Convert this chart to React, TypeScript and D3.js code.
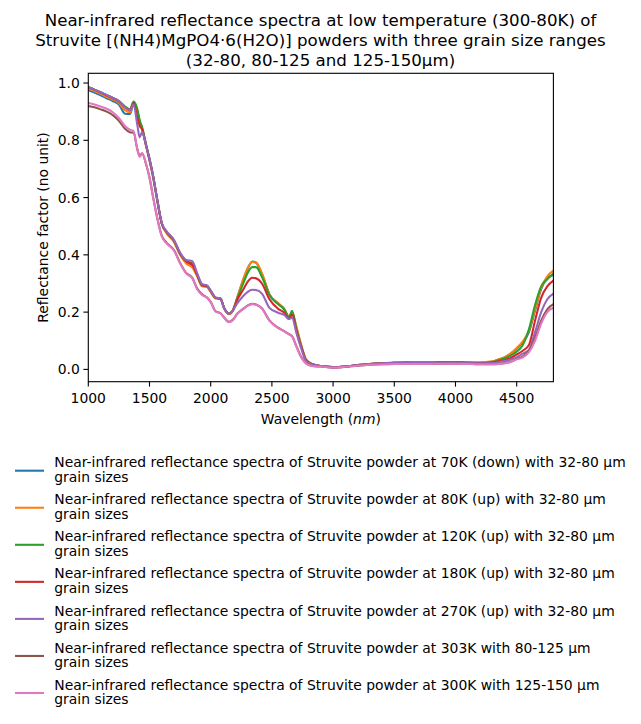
import React from "react";
import * as d3 from "d3";

const wavelengths = [1000,1050,1100,1150,1200,1250,1300,1340,1370,1400,1420,1440,1470,1500,1530,1560,1600,1640,1700,1750,1800,1850,1890,1930,1970,2000,2040,2080,2110,2150,2180,2220,2270,2300,2340,2370,2420,2480,2550,2600,2640,2665,2700,2740,2780,2830,2900,3000,3100,3200,3300,3400,3500,3600,3700,3800,3900,4000,4100,4200,4300,4350,4400,4450,4500,4550,4600,4650,4700,4750,4800];

const blue70K = [0.975,0.967,0.957,0.947,0.937,0.925,0.893,0.892,0.925,0.902,0.865,0.84,0.785,0.73,0.67,0.60,0.51,0.478,0.447,0.402,0.373,0.36,0.327,0.292,0.29,0.272,0.249,0.246,0.213,0.194,0.205,0.255,0.318,0.35,0.377,0.373,0.332,0.262,0.23,0.21,0.183,0.197,0.145,0.082,0.033,0.018,0.012,0.008,0.010,0.015,0.019,0.021,0.023,0.023,0.023,0.023,0.025,0.025,0.023,0.023,0.027,0.034,0.042,0.055,0.072,0.095,0.13,0.205,0.28,0.318,0.33];
const orange80K = [0.980,0.972,0.962,0.952,0.942,0.930,0.905,0.898,0.930,0.905,0.865,0.840,0.785,0.73,0.67,0.60,0.51,0.475,0.445,0.40,0.37,0.355,0.325,0.29,0.288,0.27,0.248,0.246,0.213,0.193,0.205,0.255,0.32,0.352,0.375,0.373,0.334,0.262,0.232,0.212,0.185,0.198,0.15,0.085,0.034,0.018,0.012,0.008,0.010,0.015,0.019,0.021,0.023,0.024,0.024,0.024,0.025,0.026,0.024,0.024,0.028,0.035,0.042,0.055,0.075,0.098,0.135,0.21,0.285,0.325,0.345];
const green120K = [0.985,0.977,0.968,0.958,0.948,0.937,0.918,0.908,0.935,0.91,0.87,0.845,0.79,0.735,0.675,0.60,0.51,0.48,0.45,0.405,0.378,0.37,0.33,0.295,0.292,0.275,0.25,0.248,0.215,0.195,0.205,0.25,0.305,0.335,0.357,0.357,0.322,0.26,0.228,0.21,0.182,0.205,0.14,0.08,0.032,0.018,0.012,0.008,0.010,0.015,0.019,0.021,0.023,0.024,0.024,0.024,0.026,0.026,0.024,0.023,0.026,0.032,0.038,0.048,0.062,0.085,0.14,0.225,0.29,0.315,0.335];
const red180K = [0.985,0.977,0.967,0.957,0.947,0.936,0.915,0.905,0.93,0.88,0.85,0.838,0.785,0.735,0.675,0.60,0.51,0.48,0.45,0.405,0.378,0.365,0.33,0.294,0.29,0.274,0.25,0.247,0.214,0.195,0.205,0.245,0.282,0.305,0.32,0.318,0.299,0.245,0.212,0.198,0.176,0.192,0.135,0.078,0.031,0.018,0.012,0.008,0.010,0.015,0.019,0.021,0.023,0.024,0.023,0.023,0.025,0.025,0.023,0.022,0.024,0.028,0.032,0.040,0.052,0.065,0.085,0.17,0.25,0.29,0.31];
const purple270K = [0.985,0.977,0.968,0.958,0.948,0.937,0.915,0.905,0.925,0.855,0.81,0.83,0.785,0.735,0.675,0.60,0.512,0.482,0.452,0.408,0.382,0.378,0.335,0.298,0.293,0.275,0.251,0.247,0.214,0.195,0.205,0.232,0.258,0.27,0.278,0.277,0.264,0.215,0.198,0.19,0.176,0.18,0.128,0.072,0.029,0.017,0.012,0.008,0.010,0.015,0.019,0.021,0.023,0.023,0.023,0.023,0.024,0.024,0.022,0.021,0.022,0.025,0.029,0.035,0.042,0.055,0.068,0.13,0.2,0.245,0.265];
const brown303K = [0.92,0.915,0.908,0.9,0.888,0.868,0.84,0.828,0.826,0.77,0.745,0.755,0.72,0.67,0.60,0.535,0.467,0.442,0.417,0.372,0.337,0.32,0.282,0.262,0.251,0.236,0.203,0.196,0.181,0.166,0.173,0.196,0.213,0.223,0.229,0.227,0.213,0.171,0.146,0.134,0.123,0.116,0.081,0.043,0.021,0.012,0.01,0.006,0.009,0.013,0.016,0.018,0.019,0.019,0.019,0.019,0.02,0.02,0.019,0.018,0.018,0.019,0.022,0.027,0.036,0.045,0.065,0.11,0.17,0.21,0.228];
const pink300K = [0.93,0.925,0.918,0.91,0.898,0.878,0.85,0.837,0.832,0.77,0.742,0.755,0.72,0.67,0.60,0.535,0.465,0.44,0.415,0.37,0.335,0.318,0.28,0.26,0.25,0.235,0.202,0.195,0.18,0.165,0.172,0.195,0.212,0.222,0.228,0.226,0.212,0.17,0.145,0.133,0.122,0.115,0.08,0.042,0.02,0.012,0.01,0.006,0.009,0.013,0.016,0.018,0.019,0.019,0.019,0.019,0.02,0.02,0.019,0.018,0.018,0.019,0.021,0.026,0.035,0.042,0.06,0.1,0.16,0.2,0.215];

const seriesLabels = [
  "Near-infrared reflectance spectra of Struvite powder at 70K (down) with 32-80 µm grain sizes",
  "Near-infrared reflectance spectra of Struvite powder at 80K (up) with 32-80 µm grain sizes",
  "Near-infrared reflectance spectra of Struvite powder at 120K (up) with 32-80 µm grain sizes",
  "Near-infrared reflectance spectra of Struvite powder at 180K (up) with 32-80 µm grain sizes",
  "Near-infrared reflectance spectra of Struvite powder at 270K (up) with 32-80 µm grain sizes",
  "Near-infrared reflectance spectra of Struvite powder at 303K with 80-125 µm grain sizes",
  "Near-infrared reflectance spectra of Struvite powder at 300K with 125-150 µm grain sizes",
];
const seriesValues = [blue70K, orange80K, green120K, red180K, purple270K, brown303K, pink300K];
const colors = ["#1f77b4", "#ff7f0e", "#2ca02c", "#d62728", "#9467bd", "#8c564b", "#e377c2"];

const titleLines = [
  "Near-infrared reflectance spectra at low temperature (300-80K) of",
  "Struvite [(NH4)MgPO4·6(H2O)] powders with three grain size ranges",
  "(32-80, 80-125 and 125-150µm)",
];
const xTicks = [1000, 1500, 2000, 2500, 3000, 3500, 4000, 4500];
const yTicks = [0, 0.2, 0.4, 0.6, 0.8, 1.0];

const W = 641, H = 724;
const M = { left: 88.3, right: 553.4, top: 73.3, bottom: 381.7 };
const FONT = "DejaVu Sans, sans-serif";

export default function App() {
  const x = d3.scaleLinear().domain([1000, 4800]).range([M.left, M.right]);
  const all = seriesValues.flat();
  const lo = d3.min(all)!, hi = d3.max(all)!;
  const pad = (hi - lo) * 0.05;
  const y = d3.scaleLinear().domain([lo - pad, hi + pad]).range([M.bottom, M.top]);
  const line = d3.line<number>()
    .x((_, i) => x(wavelengths[i]))
    .y((v) => y(v))
    .curve(d3.curveMonotoneX);

  return (
    <svg width={W} height={H} style={{ position: "absolute", left: 0, top: 0, background: "#fff" }} fontFamily={FONT}>
      <rect width={W} height={H} fill="#fff" />
      <text x={320.5} y={26.3} textAnchor="middle" fontSize={16.67} fill="#000">
        {titleLines.map((t, i) => (
          <tspan key={i} x={320.5} dy={i === 0 ? 0 : 19.8}>{t}</tspan>
        ))}
      </text>
      <defs>
        <clipPath id="plotclip">
          <rect x={M.left} y={M.top} width={M.right - M.left} height={M.bottom - M.top} />
        </clipPath>
      </defs>
      <g clipPath="url(#plotclip)">
        {seriesValues.map((vals, i) => (
          <path key={i} d={line(vals) || ""} fill="none" stroke={colors[i]} strokeWidth={2.08} strokeLinejoin="round" strokeLinecap="square" />
        ))}
      </g>
      <rect x={M.left} y={M.top} width={M.right - M.left} height={M.bottom - M.top} fill="none" stroke="#000" strokeWidth={1.1} />
      {xTicks.map((t) => (
        <g key={t}>
          <line x1={x(t)} x2={x(t)} y1={M.bottom} y2={M.bottom + 4.9} stroke="#000" strokeWidth={1.1} />
          <text x={x(t)} y={M.bottom + 21.5} textAnchor="middle" fontSize={13.9} fill="#000">{t}</text>
        </g>
      ))}
      {yTicks.map((t) => (
        <g key={t}>
          <line x1={M.left - 4.9} x2={M.left} y1={y(t)} y2={y(t)} stroke="#000" strokeWidth={1.1} />
          <text x={M.left - 8.5} y={y(t) + 5} textAnchor="end" fontSize={13.9} fill="#000">{d3.format(".1f")(t)}</text>
        </g>
      ))}
      <text x={(M.left + M.right) / 2} y={423.5} textAnchor="middle" fontSize={13.9} fill="#000">
        Wavelength (<tspan fontStyle="italic">nm</tspan>)
      </text>
      <text transform={`translate(47.5,${(M.top + M.bottom) / 2}) rotate(-90)`} textAnchor="middle" fontSize={13.9} fill="#000">
        Reflectance factor (no unit)
      </text>
      {seriesLabels.map((lab, i) => {
        const cy = 470.7 + i * 37.05;
        const idx = lab.lastIndexOf(" grain sizes");
        const l1 = lab.slice(0, idx);
        const l2 = lab.slice(idx + 1);
        return (
          <g key={i}>
            <line x1={15} x2={44} y1={cy} y2={cy} stroke={colors[i]} strokeWidth={2.08} />
            <text x={54.3} y={cy - 3.4} fontSize={13.9} fill="#000">
              <tspan x={54.3} dy={0}>{l1}</tspan>
              <tspan x={54.3} dy={14.4}>{l2}</tspan>
            </text>
          </g>
        );
      })}
    </svg>
  );
}
